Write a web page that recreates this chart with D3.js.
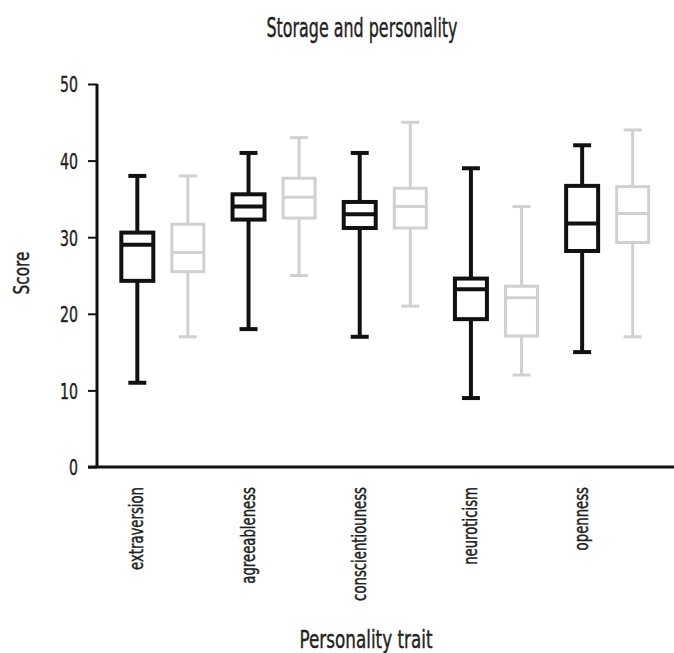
<!DOCTYPE html>
<html>
<head>
<meta charset="utf-8">
<script src="https://cdn.jsdelivr.net/npm/d3@7"></script>
<style>
  body { margin: 0; background: #fff; }
  svg text { font-family: "DejaVu Sans", sans-serif; fill: #231f20; stroke: #231f20; stroke-width: 0.45px; }
</style>
</head>
<body>
<div id="chart"></div>
<script>
// Data
const traits = ['extraversion', 'agreeableness', 'conscientiouness', 'neuroticism', 'openness'];
const groups = ['dark', 'light'];
const yTicks = [0, 10, 20, 30, 40, 50];

// [min, q1, median, q3, max] per trait
const darkStats = [
    [11, 24.3, 29, 30.6, 38],
    [18, 32.3, 34, 35.6, 41],
    [17, 31.2, 33, 34.6, 41],
    [9, 19.3, 23.2, 24.6, 39],
    [15, 28.2, 31.8, 36.7, 42]
];
const lightStats = [
    [17, 25.5, 28, 31.7, 38],
    [25, 32.5, 35.2, 37.7, 43],
    [21, 31.2, 34, 36.4, 45],
    [12, 17.1, 22.1, 23.6, 34],
    [17, 29.3, 33.1, 36.6, 44]
];

const width = 674, height = 653;
const svg = d3.select('#chart').append('svg')
    .attr('width', width)
    .attr('height', height);

// squeeze text to the narrow look of the original font
function squeeze(sel, factor) {
    sel.each(function () {
        const w = this.getComputedTextLength();
        d3.select(this).attr('textLength', w * factor).attr('lengthAdjust', 'spacingAndGlyphs');
    });
}
function fitTo(sel, len) {
    sel.attr('textLength', len).attr('lengthAdjust', 'spacingAndGlyphs');
}

const y = d3.scaleLinear().domain([0, 50]).range([467, 84]);

// box positions
const x = d3.scaleBand().domain(traits).range([107, 663]).paddingInner(0).paddingOuter(0);
const xg = d3.scaleBand().domain(groups).range([0, x.bandwidth()]).padding(0.2);
const darkCenter = d => x(d) + xg('dark') + xg.bandwidth() / 2;

// title
svg.append('text')
    .attr('x', 362).attr('y', 37)
    .attr('text-anchor', 'middle')
    .style('font-size', '27px')
    .text('Storage and personality')
    .call(fitTo, 191);

// y axis
const yAxis = svg.append('g')
    .attr('transform', 'translate(97,0)')
    .call(d3.axisLeft(y).tickValues(yTicks).tickSize(9).tickPadding(10));
yAxis.select('.domain').attr('stroke', '#111').attr('stroke-width', 3).attr('d', `M0,${y(50)}V${y(0)}`);
yAxis.selectAll('.tick line').attr('stroke', '#111').attr('stroke-width', 2);
yAxis.selectAll('.tick text')
    .attr('fill', '#231f20')
    .attr('dy', '0.36em')
    .style('font-family', null)
    .style('font-size', '22px')
    .each(function (d) { d3.select(this).call(fitTo, String(d).length * 9); });

svg.append('text')
    .attr('transform', `translate(29,273) rotate(-90)`)
    .attr('text-anchor', 'middle')
    .style('font-size', '21px')
    .text('Score')
    .call(fitTo, 43);

// x axis
svg.append('line')
    .attr('x1', 88).attr('x2', width)
    .attr('y1', y(0)).attr('y2', y(0))
    .attr('stroke', '#111').attr('stroke-width', 3);

const cats = svg.selectAll('.cat')
    .data(traits)
    .join('text')
    .attr('class', 'cat')
    .attr('transform', d => `translate(${darkCenter(d) + 6},487) rotate(-90)`)
    .attr('text-anchor', 'end')
    .style('font-size', '19px')
    .text(d => d);
const catFactor = 83 / cats.node().getComputedTextLength();
cats.call(squeeze, catFactor);

svg.append('text')
    .attr('x', 366).attr('y', 648)
    .attr('text-anchor', 'middle')
    .style('font-size', '25px')
    .text('Personality trait')
    .call(fitTo, 133);

// boxes
function drawBoxes(stats, group, color, sw, boxW, capW) {
    const g = svg.append('g').attr('class', 'boxes-' + group);
    const items = g.selectAll('g')
        .data(stats.map((s, i) => ({ trait: traits[i], s })))
        .join('g')
        .attr('transform', d => `translate(${x(d.trait) + xg(group) + xg.bandwidth() / 2},0)`);

    items.append('line')
        .attr('y1', d => y(d.s[4])).attr('y2', d => y(d.s[3]))
        .attr('stroke', color).attr('stroke-width', sw);
    items.append('line')
        .attr('y1', d => y(d.s[1])).attr('y2', d => y(d.s[0]))
        .attr('stroke', color).attr('stroke-width', sw);
    items.append('line')
        .attr('x1', -capW / 2).attr('x2', capW / 2)
        .attr('y1', d => y(d.s[4])).attr('y2', d => y(d.s[4]))
        .attr('stroke', color).attr('stroke-width', sw);
    items.append('line')
        .attr('x1', -capW / 2).attr('x2', capW / 2)
        .attr('y1', d => y(d.s[0])).attr('y2', d => y(d.s[0]))
        .attr('stroke', color).attr('stroke-width', sw);
    items.append('rect')
        .attr('x', -boxW / 2).attr('width', boxW)
        .attr('y', d => y(d.s[3]))
        .attr('height', d => y(d.s[1]) - y(d.s[3]))
        .attr('fill', 'none')
        .attr('stroke', color).attr('stroke-width', sw);
    items.append('line')
        .attr('x1', -boxW / 2).attr('x2', boxW / 2)
        .attr('y1', d => y(d.s[2])).attr('y2', d => y(d.s[2]))
        .attr('stroke', color).attr('stroke-width', sw);
}

drawBoxes(lightStats, 'light', '#d0d0d0', 3, 32, 18);
drawBoxes(darkStats, 'dark', '#111', 4, 32, 18);
</script>
</body>
</html>
